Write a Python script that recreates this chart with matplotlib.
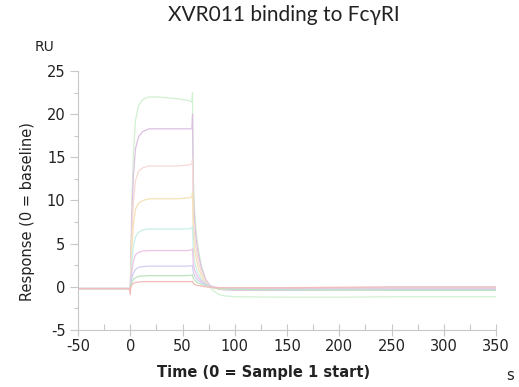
import matplotlib
matplotlib.use("Agg")
import matplotlib.pyplot as plt
from matplotlib.ticker import MultipleLocator

plt.rcParams['axes.unicode_minus'] = False

# time points (s)
t = [-50, -25, -1, 0, 0.5, 1.5, 3, 5, 8, 12, 18, 25, 35, 45, 55, 59, 59.6,
     60.3, 61.5, 63, 65, 68, 72, 76, 80, 85, 90, 100, 150, 200, 250, 300, 350]

# responses (RU), highest concentration first
r1 = [-0.2, -0.2, -0.2, -0.5, 3.0, 9.5, 15.5, 19.3, 21.0, 21.7, 22.0, 22.0, 21.9, 21.8, 21.6, 21.4, 22.5,
      13.0, 9.0, 6.5, 4.5, 2.5, 0.9, 0.0, -0.5, -0.9, -1.05, -1.15, -1.2, -1.2, -1.15, -1.15, -1.15]
r2 = [-0.2, -0.2, -0.2, -0.6, 2.4, 8.0, 12.9, 16.0, 17.4, 18.0, 18.3, 18.3, 18.3, 18.3, 18.3, 18.3, 20.0,
      11.0, 7.7, 5.6, 3.9, 2.2, 0.9, 0.2, -0.1, -0.3, -0.35, -0.4, -0.4, -0.35, -0.35, -0.35, -0.35]
r3 = [-0.2, -0.2, -0.2, -0.5, 1.8, 6.1, 9.9, 12.3, 13.4, 13.8, 14.0, 14.0, 14.0, 14.0, 14.1, 14.2, 14.8,
      8.4, 5.9, 4.4, 3.0, 1.7, 0.7, 0.1, -0.1, -0.25, -0.3, -0.3, -0.3, -0.25, -0.25, -0.25, -0.25]
r4 = [-0.2, -0.2, -0.2, -0.4, 1.3, 4.5, 7.2, 9.0, 9.7, 10.0, 10.2, 10.2, 10.2, 10.2, 10.3, 10.4, 10.9,
      6.2, 4.3, 3.3, 2.2, 1.3, 0.5, 0.1, -0.1, -0.2, -0.25, -0.3, -0.3, -0.2, -0.2, -0.2, -0.2]
r5 = [-0.2, -0.2, -0.2, -0.4, 0.8, 2.9, 4.7, 5.8, 6.3, 6.6, 6.7, 6.7, 6.7, 6.7, 6.7, 6.8, 7.0,
      4.1, 2.9, 2.2, 1.5, 0.9, 0.4, 0.1, -0.05, -0.1, -0.15, -0.15, -0.1, -0.1, -0.1, -0.1, -0.1]
r6 = [-0.2, -0.2, -0.2, -0.3, 0.5, 1.8, 3.0, 3.7, 4.0, 4.15, 4.2, 4.2, 4.2, 4.2, 4.2, 4.3, 4.4,
      2.7, 2.0, 1.5, 1.1, 0.7, 0.3, 0.1, 0.0, -0.1, -0.15, -0.2, -0.2, -0.15, -0.15, -0.15, -0.15]
r7 = [-0.2, -0.2, -0.2, -0.3, 0.2, 1.0, 1.6, 2.0, 2.25, 2.35, 2.4, 2.4, 2.4, 2.4, 2.4, 2.45, 2.5,
      1.7, 1.3, 1.0, 0.75, 0.5, 0.25, 0.05, -0.05, -0.15, -0.2, -0.25, -0.3, -0.3, -0.3, -0.3, -0.3]
r8 = [-0.2, -0.2, -0.2, -0.3, 0.1, 0.5, 0.85, 1.05, 1.2, 1.25, 1.3, 1.3, 1.3, 1.3, 1.3, 1.35, 1.4,
      1.0, 0.8, 0.6, 0.45, 0.3, 0.15, 0.0, -0.1, -0.2, -0.25, -0.3, -0.35, -0.35, -0.4, -0.4, -0.4]
r9 = [-0.2, -0.2, -0.2, -0.9, -0.1, 0.2, 0.4, 0.5, 0.55, 0.6, 0.6, 0.6, 0.6, 0.6, 0.6, 0.6, 0.65,
      0.4, 0.3, 0.2, 0.15, 0.1, 0.0, -0.05, -0.1, -0.1, -0.1, -0.1, -0.1, -0.05, 0.0, 0.0, 0.0]

curves = [r1, r2, r3, r4, r5, r6, r7, r8, r9]
colors = ['#d2f0d2', '#dcc0e2', '#f6dad4', '#f4e2b6', '#c8f0ea',
          '#eec4e4', '#d0d0f2', '#bde4bd', '#f4bcbc']

fig = plt.figure(figsize=(5.19, 3.87), dpi=100)
ax = fig.add_axes([78/519, 1-330/387, (496-78)/519, (330-71)/387])

for r, c in zip(curves, colors):
    ax.plot(t, r, color=c, lw=0.9)

ax.set_xlim(-50, 350)
ax.set_ylim(-5, 25)
ax.xaxis.set_major_locator(MultipleLocator(50))
ax.xaxis.set_minor_locator(MultipleLocator(25))
ax.yaxis.set_major_locator(MultipleLocator(5))
ax.yaxis.set_minor_locator(MultipleLocator(2.5))

for s in ['top', 'right']:
    ax.spines[s].set_visible(False)
for s in ['left', 'bottom']:
    ax.spines[s].set_color('#c8c8c8')
    ax.spines[s].set_linewidth(0.8)

ax.tick_params(axis='y', which='major', direction='out', length=6, width=0.8,
               color='#c8c8c8', labelsize=10.5, labelcolor='#222222', pad=3)
ax.tick_params(axis='y', which='minor', direction='out', length=3, width=0.8, color='#c8c8c8')
ax.tick_params(axis='x', which='major', direction='inout', length=9, width=0.8,
               color='#c8c8c8', labelsize=10.5, labelcolor='#222222', pad=2)
ax.tick_params(axis='x', which='minor', direction='in', length=4, width=0.8, color='#c8c8c8')

fig.text(284/519, 1-15/387, 'XVR011 binding to FcγRI', ha='center', va='center',
         fontsize=15, family=['Lato', 'DejaVu Sans'], color='#222222')
fig.text(45/519, 1-47/387, 'RU', ha='center', va='center', fontsize=10, color='#222222')
fig.text(510/519, 1-375/387, 's', ha='center', va='center', fontsize=10.5, color='#222222')
fig.text(264/519, 1-372/387, 'Time (0 = Sample 1 start)', ha='center', va='center',
         fontsize=10.5, fontweight='bold', color='#222222')
fig.text(28/519, 1-212/387, 'Response (0 = baseline)', ha='center', va='center',
         rotation=90, fontsize=10.5, color='#222222')

fig.savefig('out.png', dpi=100)
